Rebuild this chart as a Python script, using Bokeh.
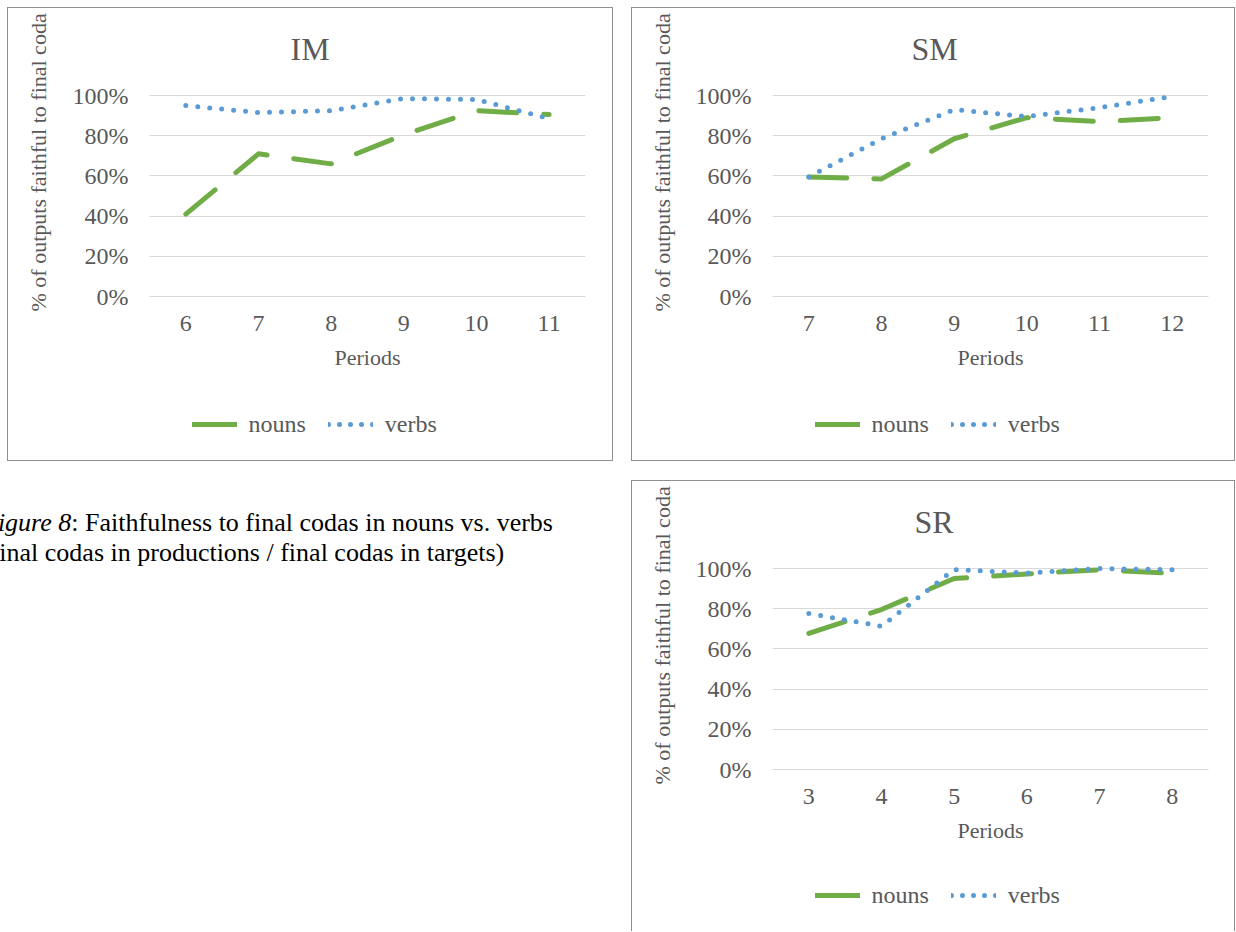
import numpy as np
from bokeh.plotting import figure
from bokeh.models import (FactorRange, Range1d, NumeralTickFormatter, FixedTicker,
                          Legend, LegendItem, Div, ColumnDataSource, Title, Spacer)
from bokeh.layouts import row, column
from bokeh.embed import file_html
from bokeh.resources import INLINE

# ---------------- data ----------------
im_periods = ["6", "7", "8", "9", "10", "11"]
im_nouns = [0.41, 0.71, 0.66, 0.805, 0.925, 0.905]
im_verbs = [0.95, 0.915, 0.925, 0.985, 0.98, 0.885]

sm_periods = ["7", "8", "9", "10", "11", "12"]
sm_nouns = [0.595, 0.585, 0.785, 0.89, 0.87, 0.89]
sm_verbs = [0.595, 0.785, 0.93, 0.895, 0.94, 0.995]

sr_periods = ["3", "4", "5", "6", "7", "8"]
sr_nouns = [0.677, 0.796, 0.95, 0.973, 0.994, 0.976]
sr_verbs = [0.776, 0.713, 0.995, 0.977, 1.0, 0.994]

y_ticks = [0, 0.2, 0.4, 0.6, 0.8, 1.0]
series_names = ["nouns", "verbs"]
y_title = "% of outputs faithful to final coda"
x_title = "Periods"

# ---------------- style ----------------
FONT = "Liberation Serif"
TXT = "#595959"
GREEN = "#70AD47"
BLUE = "#5B9BD5"
GRID = "#D9D9D9"
BORDER = "#8F8F8F"
FRAME_W = 434
FRAME_H = 204
B = f"1px solid {BORDER}"


def make_chart(name, periods, nouns, verbs, width, height, left, top, title_offset,
               ytitle_standoff):
    canvas_w = width - 2
    canvas_h = height - 1
    right = canvas_w - left - FRAME_W
    bottom = canvas_h - top - FRAME_H
    p = figure(x_range=FactorRange(factors=periods), y_range=Range1d(0, 1.02),
               width=width, height=height, output_backend="svg", toolbar_location=None,
               min_border_left=left, min_border_right=right, min_border_top=top,
               min_border_bottom=bottom, background_fill_color="white",
               border_fill_color="white", outline_line_color=None)
    p.styles = {"border-top": B, "border-left": B, "border-right": B}

    src = ColumnDataSource(dict(period=periods, nouns=nouns, verbs=verbs))
    p.line("period", "nouns", source=src, line_color=GREEN, line_width=5,
           line_dash="38 27", line_cap="round", line_join="round")
    p.line("period", "verbs", source=src, line_color=BLUE, line_width=5,
           line_dash="0 12", line_cap="round", line_join="round")

    # chart title
    p.title.text = name
    p.title.text_font = FONT
    p.title.text_font_size = "32px"
    p.title.text_font_style = "normal"
    p.title.text_color = TXT
    p.title.align = "left"
    p.title.offset = title_offset
    p.title.vertical_align = "top"
    p.title.standoff = 45

    # y axis
    ya = p.yaxis[0]
    ya.ticker = FixedTicker(ticks=y_ticks)
    ya.formatter = NumeralTickFormatter(format="0%")
    ya.axis_line_color = None
    ya.major_tick_line_color = None
    ya.minor_tick_line_color = None
    ya.major_label_text_font = FONT
    ya.major_label_text_font_size = "24px"
    ya.major_label_text_color = TXT
    ya.major_label_standoff = 15

    # y axis title as a rotated side title (positioned along the axis)
    p.add_layout(Title(text=y_title, text_font=FONT, text_font_size="22px",
                       text_font_style="normal", text_color=TXT, align="left",
                       offset=-15, vertical_align="top", standoff=ytitle_standoff),
                 "left")

    # x axis
    xa = p.xaxis[0]
    xa.axis_line_color = GRID
    xa.axis_line_width = 1
    xa.major_tick_line_color = None
    xa.minor_tick_line_color = None
    xa.major_label_text_font = FONT
    xa.major_label_text_font_size = "24px"
    xa.major_label_text_color = TXT
    xa.major_label_standoff = 13
    xa.axis_label = x_title
    xa.axis_label_text_font = FONT
    xa.axis_label_text_font_size = "22px"
    xa.axis_label_text_font_style = "normal"
    xa.axis_label_text_color = TXT
    xa.axis_label_standoff = 11

    p.xgrid.grid_line_color = None
    p.ygrid.grid_line_color = GRID
    p.ygrid.grid_line_width = 1
    return p


def make_legend(n_points, width, height, lx, ly, open_bottom=False):
    q = figure(width=width, height=height, x_range=Range1d(0, 1), y_range=Range1d(0, 1),
               x_axis_type=None, y_axis_type=None, output_backend="svg",
               toolbar_location=None, min_border=0, outline_line_color=None,
               background_fill_color="white", border_fill_color="white")
    st = {"border-left": B, "border-right": B}
    if not open_bottom:
        st["border-bottom"] = B
    q.styles = st
    blank = ColumnDataSource(dict(x=np.arange(n_points, dtype=float),
                                  y=np.full(n_points, np.nan)))
    rn = q.line("x", "y", source=blank, line_color=GREEN, line_width=5, line_cap="round")
    rv = q.line("x", "y", source=blank, line_color=BLUE, line_width=5,
                line_dash="0 11", line_cap="round")
    legend = Legend(items=[LegendItem(label=series_names[0], renderers=[rn]),
                           LegendItem(label=series_names[1], renderers=[rv])],
                    location=(lx, ly), orientation="horizontal",
                    glyph_width=45, glyph_height=20, label_standoff=12, spacing=22,
                    padding=0, margin=0, border_line_color=None,
                    background_fill_alpha=0, label_text_font=FONT,
                    label_text_font_size="24px", label_text_color=TXT)
    q.add_layout(legend)
    return q


c1 = make_chart("IM", im_periods, im_nouns, im_verbs, 606, 383, 141, 83, 141, 33)
l1 = make_legend(len(im_periods), 606, 71, 42.5, 23.5)
c2 = make_chart("SM", sm_periods, sm_nouns, sm_verbs, 604, 383, 140, 83, 139, 32)
l2 = make_legend(len(sm_periods), 604, 71, 42.5, 23.5)
c3 = make_chart("SR", sr_periods, sr_nouns, sr_verbs, 604, 383, 140, 83, 142, 32)
l3 = make_legend(len(sr_periods), 604, 68, 42.5, 22.5, open_bottom=True)

caption = Div(
    text=('<div style="margin-left:-18px; padding-top:28px; font-family:Liberation Serif, serif; '
          'font-size:26px; line-height:30px; color:#000000; white-space:nowrap;">'
          '<i>Figure 8</i>: Faithfulness to final codas in nouns vs. verbs<br>'
          '(final codas in productions / final codas in targets)</div>'),
    width=631, height=451, margin=0,
    styles={"font-family": "Liberation Serif", "font-size": "26px", "color": "#000000"})

top_row = row(Spacer(width=7, height=454), column(c1, l1), Spacer(width=18, height=454),
              column(c2, l2))
bottom_row = row(caption, column(c3, l3))
layout = column(Spacer(width=10, height=7), top_row, Spacer(width=10, height=19),
                bottom_row)

open("out.html", "w").write(file_html(layout, INLINE))
